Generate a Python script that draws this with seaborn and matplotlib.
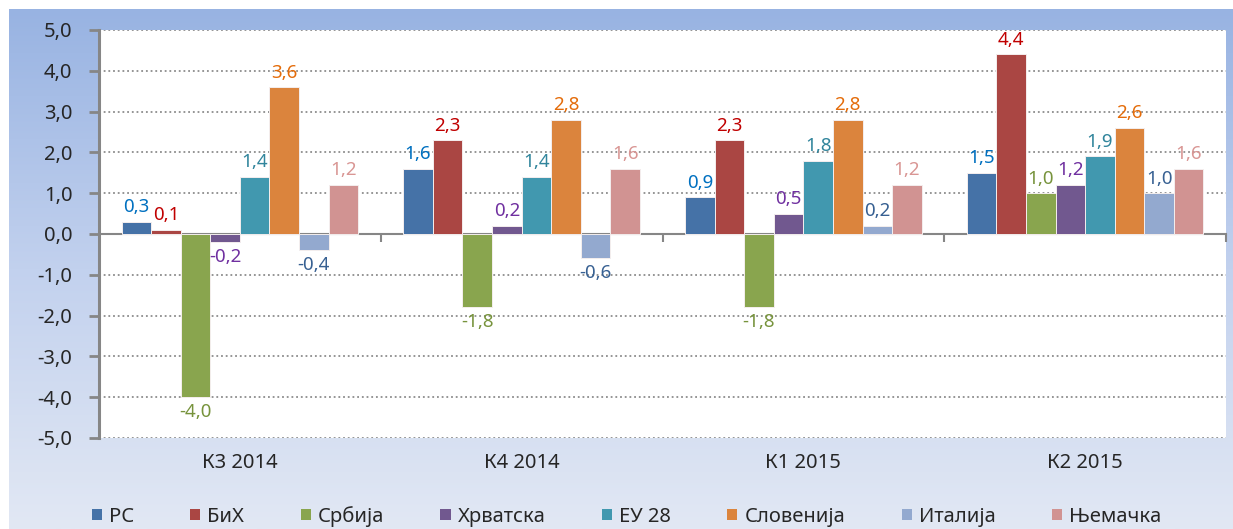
import numpy as np
import pandas as pd
import matplotlib
matplotlib.use("Agg")
import matplotlib.pyplot as plt
from matplotlib.patches import Patch
from matplotlib.ticker import FuncFormatter, FixedLocator
from matplotlib.colors import LinearSegmentedColormap
import seaborn as sns

# podaci
kvartali = ['К3 2014', 'К4 2014', 'К1 2015', 'К2 2015']
zemlje = ['РС', 'БиХ', 'Србија', 'Хрватска', 'ЕУ 28', 'Словенија', 'Италија', 'Њемачка']
rs = [0.3, 1.6, 0.9, 1.5]
bih = [0.1, 2.3, 2.3, 4.4]
srbija = [-4.0, -1.8, -1.8, 1.0]
hrvatska = [-0.2, 0.2, 0.5, 1.2]
eu28 = [1.4, 1.4, 1.8, 1.9]
slovenija = [3.6, 2.8, 2.8, 2.6]
italija = [-0.4, -0.6, 0.2, 1.0]
njemacka = [1.2, 1.6, 1.2, 1.6]

boje_stubova = ['#4572A7', '#AA4643', '#89A54E', '#71588F', '#4198AF', '#DB843D', '#93A9CF', '#D19392']
boje_oznaka = ['#0070C0', '#C00000', '#77933C', '#7030A0', '#31859C', '#E46C0A', '#376092', '#D99694']

serije = [rs, bih, srbija, hrvatska, eu28, slovenija, italija, njemacka]
df = pd.DataFrame([
    {'Квартал': k, 'Земља': z, 'Вриједност': v}
    for z, s in zip(zemlje, serije) for k, v in zip(kvartali, s)
])

sns.set_style('white')
plt.rcParams['font.family'] = ['Noto Sans', 'DejaVu Sans']

fig = plt.figure(figsize=(12.33, 5.29), dpi=100, facecolor='white')

# pozadina sa gradijentom
ax_bg = fig.add_axes([9 / 1233, 0, 1 - 9 / 1233, 1 - 9 / 529], zorder=0)
cmap = LinearSegmentedColormap.from_list('bg', ['#98B3E2', '#C2D1EE', '#E2E8F4'])
ax_bg.imshow(np.linspace(0, 1, 256).reshape(-1, 1), aspect='auto', cmap=cmap,
             extent=[0, 1, 0, 1])
ax_bg.set_axis_off()

ax = fig.add_axes([99 / 1233, (529 - 438) / 529, 1127 / 1233, 408 / 529], zorder=1)
ax.set_facecolor('white')

sns.barplot(data=df, x='Квартал', y='Вриједност', hue='Земља', order=kvartali,
            hue_order=zemlje, palette=boje_stubova, width=0.84, gap=0,
            saturation=1, legend=False, ax=ax, zorder=3,
            edgecolor='#F4EEEE', linewidth=0.7)

for cont, boja in zip(ax.containers, boje_oznaka):
    vals = [b.get_height() for b in cont]
    ax.bar_label(cont, labels=[f'{v:.1f}'.replace('.', ',') for v in vals],
                 color=boja, fontsize=13.5, padding=4)

ax.set_ylim(-5, 5)
ax.set_xlim(-0.5, 3.5)
ax.set_yticks(np.arange(-5, 6, 1))
ax.yaxis.set_major_formatter(FuncFormatter(lambda v, p: f'{v:.1f}'.replace('.', ',')))
for y in range(-5, 6):
    if y != 0:
        ax.axhline(y, color='#8C8C8C', lw=1.3, ls=(0, (1, 1.6)), zorder=1)

ax.set_xlabel('')
ax.set_ylabel('')
for s in ['top', 'right', 'bottom']:
    ax.spines[s].set_visible(False)
ax.spines['left'].set_color('#868686')
ax.spines['left'].set_linewidth(2.2)
ax.tick_params(axis='y', direction='out', length=7, width=2, color='#868686',
               labelsize=14.5, pad=12, left=True)
ax.tick_params(axis='x', length=0, labelsize=14.5, pad=11)

# horizontalna osa na nuli
sec = ax.secondary_xaxis(0, transform=ax.transData)
sec.spines['bottom'].set_color('#868686')
sec.spines['bottom'].set_linewidth(1.5)
sec.xaxis.set_major_locator(FixedLocator([0.5, 1.5, 2.5, 3.5]))
sec.tick_params(axis='x', direction='out', length=6, width=1.5, color='#868686',
                labelbottom=False)

handles = [Patch(facecolor=c, edgecolor='none') for c in boje_stubova]
fig.legend(handles, zemlje, loc='center', bbox_to_anchor=(0.508, 0.024), ncol=8,
           frameon=False, fontsize=14.5, handlelength=0.5, handleheight=0.5,
           handletextpad=0.35, columnspacing=2.8)

fig.savefig('out.png', dpi=100, facecolor='white')
